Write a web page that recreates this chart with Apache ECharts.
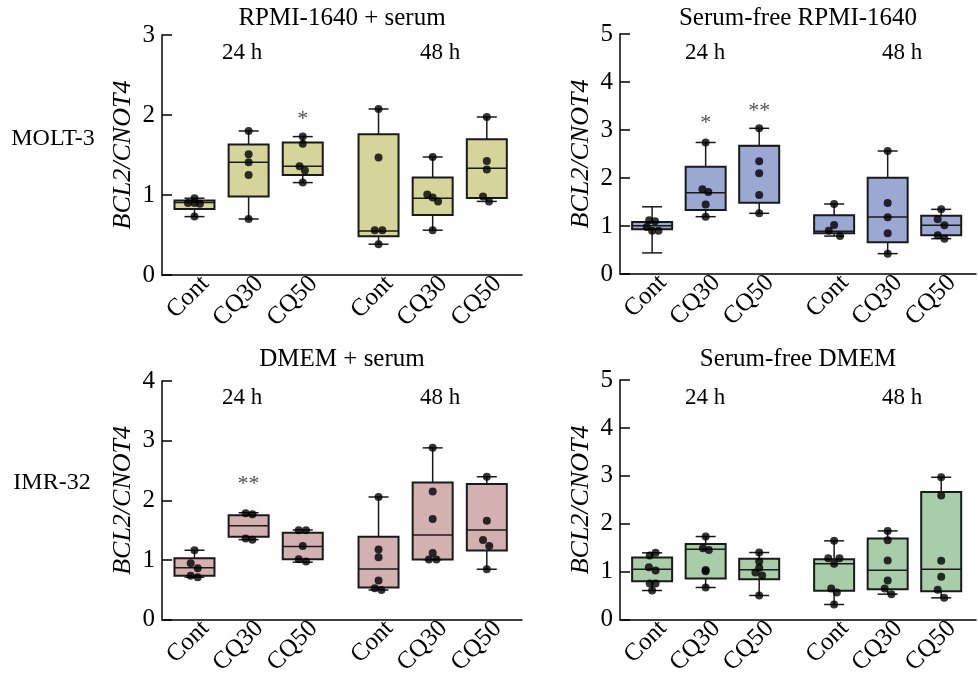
<!DOCTYPE html>
<html>
<head>
<meta charset="utf-8">
<script src="https://cdn.jsdelivr.net/npm/echarts@6/dist/echarts.min.js"></script>
<style>
  html, body { margin: 0; background: #fff; }
  #chart { width: 978px; height: 678px; }
</style>
</head>
<body>
<div id="chart"></div>
<script>
// box positions on the x axis (two groups: 24 h and 48 h)
var positions = [0.6, 1.6, 2.6, 4.0, 5.0, 6.0];
var groupLabels = ['Cont', 'CQ30', 'CQ50', 'Cont', 'CQ30', 'CQ50'];
var panelTitles = ['RPMI-1640 + serum', 'Serum-free RPMI-1640', 'DMEM + serum', 'Serum-free DMEM'];
var rowLabels = ['MOLT-3', 'IMR-32'];
var yMax = [3, 5, 4, 5];
var fills = ['#d4d49b', '#9aa8d3', '#d3b1b1', '#a9cca9'];

// boxes: [min, q1, median, q3, max]
var boxesRpmiSerum = [
  [0.73, 0.825, 0.905, 0.93, 0.96],
  [0.70, 0.98, 1.41, 1.63, 1.80],
  [1.155, 1.25, 1.36, 1.655, 1.73],
  [0.385, 0.485, 0.55, 1.76, 2.075],
  [0.56, 0.75, 0.96, 1.22, 1.475],
  [0.92, 0.963, 1.334, 1.696, 1.975]
];
var boxesRpmiFree = [
  [0.44, 0.93, 1.007, 1.083, 1.40],
  [1.194, 1.333, 1.694, 2.236, 2.74],
  [1.264, 1.486, 2.674, 2.674, 3.035],  // median line not visible
  [0.79, 0.847, 0.889, 1.222, 1.458],
  [0.424, 0.66, 1.1875, 2.007, 2.5625],
  [0.736, 0.806, 1.014, 1.215, 1.347]
];
var boxesDmemSerum = [
  [0.714, 0.74, 0.87, 1.03, 1.165],
  [1.343, 1.393, 1.577, 1.75, 1.794],
  [0.965, 1.015, 1.226, 1.46, 1.505],
  [0.50, 0.54, 0.853, 1.393, 2.057],
  [1.009, 1.009, 1.42, 2.30, 2.88],
  [0.847, 1.159, 1.505, 2.274, 2.396]
];
var boxesDmemFree = [
  [0.611, 0.806, 1.056, 1.299, 1.396],
  [0.674, 0.861, 1.472, 1.583, 1.736],
  [0.507, 0.847, 1.042, 1.271, 1.403],
  [0.319, 0.604, 1.167, 1.264, 1.646],
  [0.535, 0.639, 1.035, 1.694, 1.854],
  [0.458, 0.597, 1.056, 2.667, 2.972]
];

// individual measurements per box
var pointsRpmiSerum = [
  [0.96, 0.90, 0.90, 0.89, 0.73],
  [1.80, 1.51, 1.41, 1.25, 0.70],
  [1.73, 1.64, 1.36, 1.305, 1.155],
  [2.075, 1.47, 0.56, 0.56, 0.385],
  [1.475, 1.005, 0.97, 0.92, 0.56],
  [1.975, 1.425, 1.32, 0.98, 0.92]
];
var pointsRpmiFree = [
  [1.12, 1.10, 0.98, 0.90, 0.90],
  [2.74, 1.764, 1.71, 1.45, 1.194],
  [3.035, 2.35, 2.10, 1.646, 1.264],
  [1.458, 1.02, 0.90, 0.79],
  [2.5625, 1.48, 1.18, 0.847, 0.424],
  [1.347, 1.139, 1.014, 0.806, 0.736]
];
var pointsDmemSerum = [
  [1.165, 0.948, 0.864, 0.74, 0.714],
  [1.785, 1.77, 1.36, 1.343],
  [1.50, 1.50, 1.237, 1.015, 0.976],
  [2.057, 1.176, 1.048, 0.657, 0.53, 0.50],
  [2.88, 2.15, 1.69, 1.12, 1.009, 1.009],
  [2.396, 1.66, 1.338, 1.237, 0.847]
];
var pointsDmemFree = [
  [1.396, 1.34, 1.097, 1.028, 0.757, 0.757, 0.611],
  [1.736, 1.493, 1.458, 1.04, 1.01, 0.674],
  [1.403, 1.215, 1.083, 0.986, 0.924, 0.507],
  [1.646, 1.285, 1.285, 1.167, 0.653, 0.569, 0.319],
  [1.854, 1.66, 1.236, 0.82, 0.653, 0.535],
  [2.972, 2.59, 1.229, 0.896, 0.625, 0.458]
];

// horizontal jitter of the dots (x units)
var jitterRpmiSerum = [
  [0, -0.12, 0, 0.1, 0],
  [0, 0, 0, 0, 0],
  [0, 0, -0.06, 0.04, 0],
  [0, 0, -0.07, 0.07, 0],
  [0, -0.1, 0, 0.1, 0],
  [0, 0, 0, -0.07, 0.04]
];
var jitterRpmiFree = [
  [-0.055, 0.055, -0.1, 0, 0.12],
  [0, -0.06, 0.05, 0, 0],
  [0, 0, 0, 0, 0],
  [0, 0, -0.1, 0.11],
  [0, 0, 0, 0, 0],
  [0, -0.065, 0.06, -0.065, 0.06]
];
var jitterDmemSerum = [
  [0, -0.07, 0.06, -0.07, 0.06],
  [-0.055, 0.07, -0.055, 0.07],
  [-0.075, 0.06, 0, -0.075, 0.06],
  [0, 0, 0, 0, -0.07, 0.055],
  [0, 0, 0, 0, -0.07, 0.07],
  [0, 0, -0.07, 0.045, 0]
];
var jitterDmemFree = [
  [0.065, -0.045, -0.06, 0.065, -0.045, 0.065, 0],
  [0, -0.05, 0.06, 0, 0, 0],
  [0, 0, 0, -0.07, 0.055, 0],
  [0, -0.11, 0.1, 0, -0.055, 0.05, 0],
  [0, 0, 0, 0, -0.055, 0.07],
  [0, 0, 0, 0, -0.065, 0.055]
];

// significance marks: [box index, y, text]
var starsRpmiSerum = [[2, 1.95, '*']];
var starsRpmiFree = [[1, 3.15, '*'], [2, 3.40, '**']];
var starsDmemSerum = [[1, 2.27, '**']];
var starsDmemFree = [];

var allBoxes = [boxesRpmiSerum, boxesRpmiFree, boxesDmemSerum, boxesDmemFree];
var allPoints = [pointsRpmiSerum, pointsRpmiFree, pointsDmemSerum, pointsDmemFree];
var allJitter = [jitterRpmiSerum, jitterRpmiFree, jitterDmemSerum, jitterDmemFree];
var allStars = [starsRpmiSerum, starsRpmiFree, starsDmemSerum, starsDmemFree];

var FONT = '"Liberation Serif", "DejaVu Serif", serif';
var LABEL_SHIFT = 0.2;  // rotated labels sit a little right of their box
var grids = [
  {left: 162, top: 35, width: 360, height: 240},
  {left: 620, top: 34, width: 356, height: 240},
  {left: 162, top: 381, width: 360, height: 239},
  {left: 620, top: 380, width: 356, height: 240}
];

var labelValues = positions.map(function (p) { return p + LABEL_SHIFT; });
function labelFor(v) {
  for (var i = 0; i < labelValues.length; i++) {
    if (Math.abs(labelValues[i] - v) < 1e-6) return groupLabels[i];
  }
  return '';
}

var xAxes = [], yAxes = [], series = [];
for (var g = 0; g < 4; g++) {
  xAxes.push({
    gridIndex: g, type: 'value', min: 0, max: 6.65,
    axisLine: {show: true, lineStyle: {color: '#000', width: 1.5}},
    axisTick: {show: false},
    splitLine: {show: false},
    axisLabel: {
      customValues: labelValues, formatter: labelFor,
      rotate: 45, fontSize: 25, fontFamily: FONT, color: '#000', margin: 5
    }
  });
  yAxes.push({
    gridIndex: g, type: 'value', min: 0, max: yMax[g], interval: 1,
    name: 'BCL2/CNOT4', nameLocation: 'middle', nameGap: 26,
    nameTextStyle: {fontStyle: 'italic', fontSize: 26, fontFamily: FONT, color: '#000'},
    axisLine: {show: true, lineStyle: {color: '#000', width: 1.5}},
    axisTick: {show: true, inside: true, length: 10, lineStyle: {color: '#000', width: 1.5}},
    splitLine: {show: false},
    axisLabel: {fontSize: 25, fontFamily: FONT, color: '#000', margin: 7}
  });

  var boxData = allBoxes[g].map(function (b, i) {
    return [positions[i]].concat(b);
  });
  series.push({
    type: 'custom', xAxisIndex: g, yAxisIndex: g, data: boxData,
    itemStyle: {color: fills[g]},
    renderItem: function (params, api) {
      var x = api.value(0);
      var pMin = api.coord([x, api.value(1)]);
      var pQ1 = api.coord([x, api.value(2)]);
      var pMed = api.coord([x, api.value(3)]);
      var pQ3 = api.coord([x, api.value(4)]);
      var pMax = api.coord([x, api.value(5)]);
      var half = 20, cap = 10;
      var ln = {stroke: '#1a1a1a', lineWidth: 1.5};
      return {
        type: 'group',
        children: [
          {type: 'line', shape: {x1: pMin[0], y1: pMin[1], x2: pQ1[0], y2: pQ1[1]}, style: ln},
          {type: 'line', shape: {x1: pQ3[0], y1: pQ3[1], x2: pMax[0], y2: pMax[1]}, style: ln},
          {type: 'line', shape: {x1: pMin[0] - cap, y1: pMin[1], x2: pMin[0] + cap, y2: pMin[1]}, style: ln},
          {type: 'line', shape: {x1: pMax[0] - cap, y1: pMax[1], x2: pMax[0] + cap, y2: pMax[1]}, style: ln},
          {type: 'rect', shape: {x: pQ3[0] - half, y: pQ3[1], width: half * 2, height: pQ1[1] - pQ3[1]},
            style: {fill: api.visual('color'), stroke: '#1a1a1a', lineWidth: 2}},
          {type: 'line', shape: {x1: pMed[0] - half, y1: pMed[1], x2: pMed[0] + half, y2: pMed[1]}, style: ln}
        ]
      };
    }
  });

  var dots = [];
  allPoints[g].forEach(function (vals, i) {
    vals.forEach(function (v, k) {
      dots.push([positions[i] + allJitter[g][i][k], v]);
    });
  });
  series.push({
    type: 'scatter', xAxisIndex: g, yAxisIndex: g, data: dots,
    symbolSize: 8, itemStyle: {color: '#000'}, z: 5
  });

  series.push({
    type: 'scatter', xAxisIndex: g, yAxisIndex: g,
    data: allStars[g].map(function (s) { return [positions[s[0]], s[1], s[2]]; }),
    symbolSize: 0,
    label: {show: true, position: 'inside', formatter: function (p) { return p.data[2]; },
      fontSize: 22, fontFamily: FONT, color: '#222'}
  });
}

function txt(s, x, y, size) {
  return {type: 'text', x: x, y: y,
    style: {text: s, font: size + 'px ' + FONT, fill: '#000',
      align: 'center', verticalAlign: 'middle', textAlign: 'center', textVerticalAlign: 'middle'}};
}

var texts = [
  txt(panelTitles[0], 342, 18, 25), txt(panelTitles[1], 798, 18, 25),
  txt(panelTitles[2], 342, 359, 25), txt(panelTitles[3], 798, 359, 25),
  txt('24 h', 242, 53, 23), txt('48 h', 440, 53, 23),
  txt('24 h', 705, 53, 23), txt('48 h', 902, 53, 23),
  txt('24 h', 242, 398, 23), txt('48 h', 440, 398, 23),
  txt('24 h', 705, 398, 23), txt('48 h', 902, 398, 23),
  txt(rowLabels[0], 53, 139, 24), txt(rowLabels[1], 52, 483, 24)
];

var chart = echarts.init(document.getElementById('chart'));
chart.setOption({
  backgroundColor: '#fff',
  animation: false,
  grid: grids,
  xAxis: xAxes,
  yAxis: yAxes,
  series: series,
  graphic: texts
});
</script>
</body>
</html>
